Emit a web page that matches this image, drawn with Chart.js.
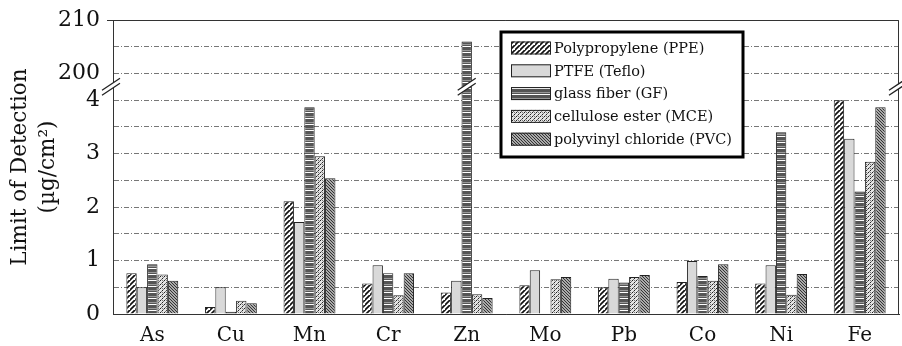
<!DOCTYPE html>
<html>
<head>
<meta charset="utf-8">
<script src="https://cdn.jsdelivr.net/npm/chart.js@4"></script>
<style>
  html, body { margin: 0; padding: 0; background: #fff; }
  #wrap { width: 902px; height: 346px; }
</style>
</head>
<body>
<div id="wrap"><canvas id="lodChart" width="902" height="346"></canvas></div>
<script>
const categories = ['As', 'Cu', 'Mn', 'Cr', 'Zn', 'Mo', 'Pb', 'Co', 'Ni', 'Fe'];
const seriesNames = ['Polypropylene (PPE)', 'PTFE (Teflo)', 'glass fiber (GF)', 'cellulose ester (MCE)', 'polyvinyl chloride (PVC)'];
const ppe  = [0.76, 0.13, 2.11, 0.57, 0.40, 0.54, 0.50, 0.60, 0.57, 4.00];
const ptfe = [0.50, 0.50, 1.72, 0.91, 0.62, 0.82, 0.66, 0.99, 0.91, 3.28];
const gf   = [0.93, 0.04, 3.87, 0.76, 206, null, 0.59, 0.71, 3.40, 2.29];
const mce  = [0.74, 0.25, 2.95, 0.35, 0.37, 0.65, 0.69, 0.62, 0.36, 2.85];
const pvc  = [0.62, 0.20, 2.54, 0.76, 0.30, 0.69, 0.73, 0.93, 0.75, 3.87];
// broken axis: 0..4 as is, then 200..210 squeezed above it
const lowTicks = [0, 1, 2, 3, 4];
const highTicks = [200, 210];

function toAxis(v) {
  if (v === null) return null;
  return v <= 4.25 ? v : 4.5 + (v - 200) / 10;
}
function axisLabel(t) {
  if (Number.isInteger(t) && lowTicks.includes(t)) return String(t);
  const hv = Math.round((t - 4.5) * 10 + 200);
  if (t > 4.25 && highTicks.includes(hv) && Math.abs(toAxis(hv) - t) < 1e-6) return String(hv);
  return '';
}

// fill patterns
function pattern(w, h, draw) {
  const c = document.createElement('canvas');
  c.width = w; c.height = h;
  const g = c.getContext('2d');
  draw(g, w, h);
  return g.createPattern(c, 'repeat');
}
const ctx = document.getElementById('lodChart').getContext('2d');
const fills = [
  pattern(5, 5, (g, w, h) => {
    g.fillStyle = '#fff'; g.fillRect(0, 0, w, h);
    g.strokeStyle = '#111'; g.lineWidth = 1.7;
    g.beginPath();
    g.moveTo(-1, h + 1); g.lineTo(w + 1, -1);
    g.moveTo(-1 - w, h + 1); g.lineTo(1, -1);
    g.moveTo(w - 1, 2 * h + 1); g.lineTo(2 * w + 1, h - 1);
    g.stroke();
  }),
  '#d9d9d9',
  pattern(4, 6, (g, w, h) => {
    g.fillStyle = '#555'; g.fillRect(0, 0, w, h);
    g.fillStyle = '#999'; g.fillRect(0, 2, w, 1);
    g.fillStyle = '#fff'; g.fillRect(0, 4, w, 1);
  }),
  pattern(4, 4, (g, w, h) => {
    g.fillStyle = '#e4e4e4'; g.fillRect(0, 0, w, h);
    g.fillStyle = '#222';
    g.fillRect(0, 0, 1, 1); g.fillRect(2, 2, 1, 1);
    g.fillStyle = '#777';
    g.fillRect(1, 3, 1, 1); g.fillRect(3, 1, 1, 1); g.fillRect(2, 0, 1, 1);
  }),
  pattern(3, 3, (g, w, h) => {
    g.fillStyle = '#aaa'; g.fillRect(0, 0, w, h);
    g.fillStyle = '#333';
    g.fillRect(0, 0, 1, 1); g.fillRect(1, 1, 1, 1); g.fillRect(2, 2, 1, 1);
  })
];

const seriesValues = [ppe, ptfe, gf, mce, pvc];
const datasets = seriesValues.map((vals, i) => ({
  label: seriesNames[i],
  data: vals.map(toAxis),
  backgroundColor: fills[i],
  borderColor: '#222',
  borderWidth: 1,
  borderSkipped: 'bottom'
}));

const SERIF = '"DejaVu Serif", serif';

const framePlugin = {
  id: 'frame',
  afterDraw(chart) {
    const c = chart.ctx, a = chart.chartArea;
    const y = chart.scales.y;
    c.save();
    c.strokeStyle = '#333'; c.lineWidth = 1;
    c.beginPath();
    c.moveTo(a.left, a.top + 0.5); c.lineTo(a.right - 0.5, a.top + 0.5); c.lineTo(a.right - 0.5, a.bottom);
    c.stroke();
    c.beginPath();
    c.moveTo(a.left - 6, a.top + 0.5); c.lineTo(a.left, a.top + 0.5);
    c.stroke();

    // break marks
    const by = y.getPixelForValue(4.25);
    const zn = chart.getDatasetMeta(2).data[categories.indexOf('Zn')];
    const spots = [a.left - 2, zn.x, a.right - 1];
    spots.forEach(x => {
      const dx = 9, dy = 6, gap = 5;
      c.fillStyle = '#fff';
      c.beginPath();
      c.moveTo(x - dx, by + dy - gap / 2); c.lineTo(x + dx, by - dy - gap / 2);
      c.lineTo(x + dx, by - dy + gap / 2); c.lineTo(x - dx, by + dy + gap / 2);
      c.closePath(); c.fill();
      c.strokeStyle = '#222'; c.lineWidth = 1.3;
      c.beginPath();
      c.moveTo(x - dx, by + dy - gap / 2); c.lineTo(x + dx, by - dy - gap / 2);
      c.moveTo(x - dx, by + dy + gap / 2); c.lineTo(x + dx, by - dy + gap / 2);
      c.stroke();
    });

    // legend box
    const lx = a.left + 388, ly = a.top + 12, lw = 242, lh = 125;
    c.fillStyle = '#fff';
    c.fillRect(lx, ly, lw, lh);
    c.strokeStyle = '#000'; c.lineWidth = 3;
    c.strokeRect(lx, ly, lw, lh);
    c.font = '14.5px ' + SERIF;
    c.textBaseline = 'middle';
    seriesNames.forEach((name, i) => {
      const ry = ly + 16 + i * 22.8;
      c.fillStyle = fills[i];
      c.fillRect(lx + 10, ry - 6.5, 40, 13);
      c.strokeStyle = '#222'; c.lineWidth = 1;
      c.strokeRect(lx + 10.5, ry - 6, 39, 12);
      c.fillStyle = '#111';
      c.fillText(name, lx + 53, ry + 1);
    });
    c.restore();
  }
};

new Chart(ctx, {
  type: 'bar',
  data: { labels: categories, datasets: datasets },
  options: {
    responsive: false,
    animation: false,
    layout: { padding: { top: 20, right: 3, left: 0, bottom: 0 } },
    datasets: { bar: { categoryPercentage: 0.66, barPercentage: 1.0 } },
    plugins: {
      legend: { display: false },
      tooltip: { enabled: false }
    },
    scales: {
      x: {
        grid: { display: false },
        border: { display: true, color: '#333', width: 1 },
        ticks: { color: '#111', font: { family: SERIF, size: 20 }, padding: 2 },
        afterFit: s => { s.height = 32; }
      },
      y: {
        min: 0,
        max: 5.5,
        grid: { color: '#777', lineWidth: 1, drawTicks: false },
        border: { display: true, color: '#333', width: 1, dash: [5, 2, 1, 2] },
        ticks: {
          stepSize: 0.5,
          maxTicksLimit: 20,
          autoSkip: false,
          padding: 13,
          color: '#111',
          font: { family: SERIF, size: 22 },
          callback: v => axisLabel(v)
        },
        title: {
          display: true,
          text: ['Limit of Detection', '(µg/cm²)'],
          color: '#111',
          font: { family: SERIF, size: 21.5, lineHeight: 1.3 },
          padding: { top: 6, bottom: 0 }
        },
        afterFit: s => { s.width = 113; s.paddingTop = 0; s.paddingBottom = 0; }
      }
    }
  },
  plugins: [framePlugin]
});
</script>
</body>
</html>
